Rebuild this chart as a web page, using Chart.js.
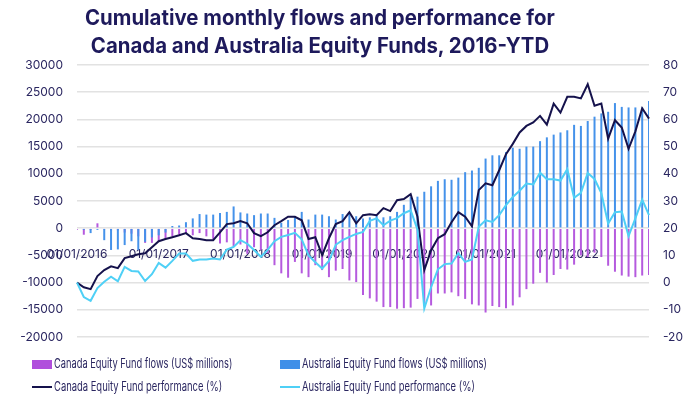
<!DOCTYPE html>
<html>
<head>
<meta charset="utf-8">
<script src="https://cdn.jsdelivr.net/npm/chart.js@4.4.0/dist/chart.umd.min.js"></script>
<style>
  body { margin: 0; background: #fff; font-family: Inter, sans-serif; }
  #wrap { position: relative; width: 700px; height: 399px; overflow: hidden; }
  #wrap canvas { position: absolute; left: 0; top: 0; }
  .title { position: absolute; left: 0; width: 640px; text-align: center; white-space: nowrap;
           font-weight: 700; font-size: 21px; line-height: 28px; color: #1e1a5c; }
  .title span, .leg span.txt { display: inline-block; transform-origin: left center; }
  .title span { transform-origin: center center; }
  .leg { position: absolute; height: 16px; line-height: 16px; white-space: nowrap;
         font-size: 13px; color: #2a2660; }
  .leg i { display: inline-block; vertical-align: middle; width: 20px; margin-right: 2px; }
</style>
</head>
<body>
<div id="wrap">
  <canvas id="flowChart" width="700" height="399"></canvas>
  <div class="title" style="top:4px"><span id="t1">Cumulative monthly flows and performance for</span></div>
  <div class="title" style="top:32px"><span id="t2">Canada and Australia Equity Funds, 2016-YTD</span></div>
  <div class="leg" style="left:32px;top:355px"><i style="height:9px;background:#b04fdc"></i><span class="txt" data-w="178">Canada Equity Fund flows (US$ millions)</span></div>
  <div class="leg" style="left:280px;top:355px"><i style="height:9px;background:#3f8fe8"></i><span class="txt" data-w="185">Australia Equity Fund flows (US$ millions)</span></div>
  <div class="leg" style="left:32px;top:378px"><i style="height:2px;background:#15124c"></i><span class="txt" data-w="168">Canada Equity Fund performance (%)</span></div>
  <div class="leg" style="left:280px;top:378px"><i style="height:2px;background:#4fd0f6"></i><span class="txt" data-w="173">Australia Equity Fund performance (%)</span></div>
</div>
<script>
// monthly, Jan 2016 onwards
var months = [];
for (var yr = 2016; yr <= 2023; yr++) {
    for (var m = 1; m <= 12; m++) {
        if (yr === 2023 && m > 1) break;
        months.push('01/' + (m < 10 ? '0' + m : m) + '/' + yr);
    }
}

var canadaFlows = [-300, -1200, -300, 900, -200, -500, -400, -800, -1000, -1500, -2700, -2700,
    -2500, -2000, -1500, -1200, -1000, -1300, -900, -1500, -2000, -2800, -2600, -3400,
    -3000, -4700, -3500, -4000, -4600, -6800, -8300, -9100, -6200, -8300, -9000, -6800,
    -7700, -9000, -7800, -7500, -9600, -9900, -12300, -12900, -13500, -14500, -14500, -14800,
    -14700, -14600, -13000, -13900, -14200, -12000, -12000, -11800, -12500, -13000, -14000, -14200,
    -15500, -14300, -14500, -14700, -14200, -12700, -11200, -10200, -8200, -10000, -8600, -7500,
    -7600, -6700, -5000, -5300, -4500, -5300, -6900, -8000, -8700, -8900, -9000, -8700,
    -8600];

var australiaFlows = [0, -300, -900, -300, -2200, -4000, -3900, -3100, -2400, -4000, -2500, -1700,
    -1300, -800, 400, 500, 1100, 1800, 2600, 2500, 2500, 2800, 3000, 4000,
    2900, 2700, 2400, 2700, 2700, 1900, 1000, 1500, 2200, 3000, 1600, 2500,
    2500, 2200, 1600, 2600, 2800, 2200, 1800, 2000, 2300, 2000, 2200, 3000,
    4300, 5700, 5800, 6700, 7700, 8700, 9000, 8900, 9300, 10300, 10600, 11100,
    12800, 13400, 13400, 14000, 14800, 14600, 15000, 15000, 16000, 16700, 17200, 17600,
    18000, 19000, 18800, 19700, 20500, 21100, 21400, 23000, 22300, 22200, 22200, 22200,
    23400];

var canadaPerf = [0, -1.7, -2.4, 2.4, 4.6, 6.0, 5.3, 9.0, 9.7, 10.4, 10.8, 13.0,
    15.2, 16.0, 16.7, 17.4, 18.2, 16.3, 16.0, 15.6, 15.6, 18.5, 21.5, 21.8,
    22.6, 21.8, 18.2, 17.1, 18.5, 21.1, 22.6, 24.2, 24.2, 22.9, 16.0, 16.7,
    10.1, 16.3, 21.5, 22.6, 25.9, 21.8, 24.8, 25.1, 24.8, 27.4, 26.3, 30.3,
    30.7, 32.5, 24.2, 4.6, 11.9, 16.3, 17.8, 22.2, 25.9, 24.2, 20.7, 34.0,
    36.5, 35.8, 41.3, 47.2, 51.0, 55.2, 57.6, 58.9, 61.3, 58.1, 65.8, 62.5,
    68.3, 68.3, 67.7, 72.9, 65.0, 65.8, 52.9, 59.7, 57.0, 49.2, 55.6, 64.1,
    60.3];

var australiaPerf = [0, -5.3, -6.7, -2.0, 0.3, 2.2, 0.5, 5.8, 4.3, 4.1, 0.6, 3.1,
    7.2, 5.5, 8.0, 10.7, 10.7, 8.0, 8.5, 8.5, 8.9, 8.5, 12.1, 13.1,
    15.6, 14.3, 12.0, 9.5, 12.0, 15.2, 16.8, 17.5, 18.3, 15.9, 10.0, 7.5,
    5.2, 8.0, 13.9, 15.6, 16.8, 17.9, 18.6, 22.7, 23.6, 21.1, 22.8, 23.7,
    25.5, 26.6, 19.5, -9.5, -1.7, 4.9, 6.8, 7.0, 10.8, 7.6, 8.5, 20.5,
    22.9, 22.3, 24.8, 28.5, 31.5, 33.8, 36.4, 36.1, 40.4, 38.0, 38.0, 37.5,
    41.7, 31.2, 33.0, 40.3, 38.1, 32.9, 21.7, 25.9, 26.1, 17.1, 23.6, 30.5,
    24.8];

var tickColor = '#2a2660';
var gridColor = '#e2e2e2';

var ctx = document.getElementById('flowChart').getContext('2d');

var flowChart = new Chart(ctx, {
    data: {
        labels: months,
        datasets: [{
            type: 'bar',
            label: 'Canada Equity Fund flows (US$ millions)',
            data: canadaFlows,
            backgroundColor: '#b55ade',
            maxBarThickness: 2,
            grouped: false,
            yAxisID: 'y',
            order: 3
        }, {
            type: 'bar',
            label: 'Australia Equity Fund flows (US$ millions)',
            data: australiaFlows,
            backgroundColor: '#4592ea',
            maxBarThickness: 2,
            grouped: false,
            yAxisID: 'y',
            order: 2
        }, {
            type: 'line',
            label: 'Canada Equity Fund performance (%)',
            data: canadaPerf,
            borderColor: '#15124c',
            borderWidth: 2,
            pointRadius: 0,
            tension: 0,
            yAxisID: 'y1',
            order: 1
        }, {
            type: 'line',
            label: 'Australia Equity Fund performance (%)',
            data: australiaPerf,
            borderColor: '#4fd0f6',
            borderWidth: 2,
            pointRadius: 0,
            tension: 0,
            yAxisID: 'y1',
            order: 0
        }]
    },
    options: {
        responsive: false,
        animation: false,
        layout: {
            padding: { top: 65, bottom: 62, left: 0, right: 0 }
        },
        plugins: {
            legend: { display: false },
            title: { display: false },
            tooltip: { enabled: false }
        },
        scales: {
            x: {
                type: 'category',
                position: { y: 0 },
                offset: false,
                grid: { display: false },
                border: { display: false },
                ticks: {
                    autoSkip: false,
                    maxRotation: 0,
                    padding: 11,
                    color: tickColor,
                    font: { family: 'Inter', size: 12 },
                    callback: function(val, i) {
                        return (i % 12 === 0 && i < 84) ? this.getLabelForValue(val) : '';
                    }
                }
            },
            y: {
                position: 'left',
                min: -20000,
                max: 30000,
                grid: { color: gridColor, lineWidth: 1.5, drawTicks: false },
                border: { display: false },
                ticks: {
                    stepSize: 5000,
                    padding: 14,
                    color: tickColor,
                    font: { family: 'Inter', size: 12 },
                    callback: function(v) { return String(v); }
                },
                afterFit: function(scale) { scale.width = 77; }
            },
            y1: {
                position: 'right',
                min: -20,
                max: 80,
                grid: { drawOnChartArea: false, drawTicks: false },
                border: { display: false },
                ticks: {
                    stepSize: 10,
                    padding: 14,
                    color: tickColor,
                    font: { family: 'Inter', size: 12 }
                },
                afterFit: function(scale) { scale.width = 51; }
            }
        }
    }
});

// squeeze html text to the widths used in the original
function fitWidth(el, w) {
    var s = w / el.offsetWidth;
    el.style.transform = 'scaleX(' + s + ')';
}
var t1 = document.getElementById('t1');
var t2 = document.getElementById('t2');
var ts = 470 / t1.offsetWidth;
t1.style.transform = 'scaleX(' + ts + ')';
t2.style.transform = 'scaleX(' + ts + ')';
document.querySelectorAll('.leg span.txt').forEach(function(el) {
    fitWidth(el, +el.getAttribute('data-w'));
});
</script>
</body>
</html>
